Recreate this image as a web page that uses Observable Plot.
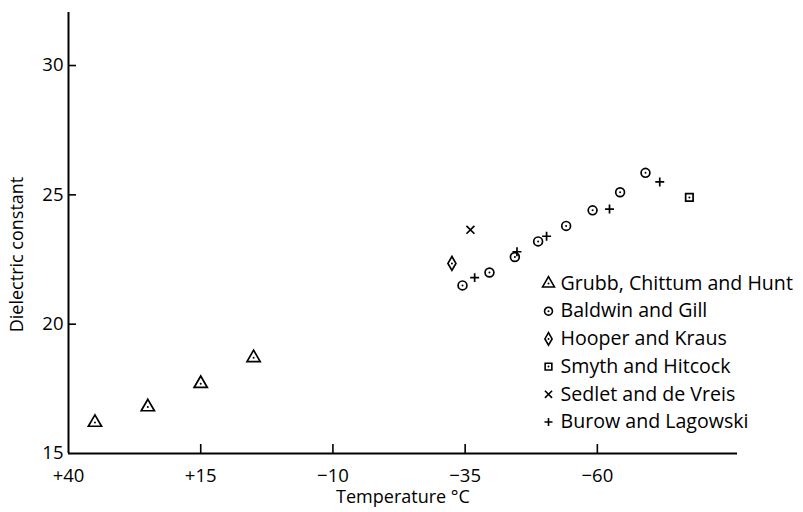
<!DOCTYPE html>
<html><head><meta charset="utf-8">
<script src="https://cdn.jsdelivr.net/npm/d3@7"></script>
<script src="https://cdn.jsdelivr.net/npm/@observablehq/plot@0.6"></script>
<style>body{margin:0;background:#fff}#chart{width:803px;height:512px}</style>
</head><body><div id="chart"></div>
<script>
// Axis ticks
const xTicks = [40, 15, -10, -35, -60];
const xTickLabels = ["+40", "+15", "\u221210", "\u221235", "\u221260"];
const yTicks = [15, 20, 25, 30];
const xDomain = [40, -86.5];
const yDomain = [15, 32.05];

// Series
const seriesNames = ["Grubb, Chittum and Hunt", "Baldwin and Gill", "Hooper and Kraus", "Smyth and Hitcock", "Sedlet and de Vreis", "Burow and Lagowski"];
const seriesSymbols = ["triangle", "circle", "diamond", "square", "times", "plus"];

const grubbT = [35, 25, 15, 5];
const grubbV = [16.2, 16.8, 17.7, 18.7];
const baldwinT = [-34.5, -39.6, -44.4, -48.8, -54.1, -59.1, -64.3, -69.1];
const baldwinV = [21.5, 22.0, 22.6, 23.2, 23.8, 24.4, 25.1, 25.85];
const hooperT = [-32.5];
const hooperV = [22.35];
const smythT = [-77.4];
const smythV = [24.9];
const sedletT = [-36];
const sedletV = [23.65];
const burowT = [-36.8, -44.8, -50.4, -62.3, -71.8];
const burowV = [21.8, 22.8, 23.4, 24.45, 25.5];

const seriesT = [grubbT, baldwinT, hooperT, smythT, sedletT, burowT];
const seriesV = [grubbV, baldwinV, hooperV, smythV, sedletV, burowV];

const points = [];
seriesT.forEach((ts, i) => ts.forEach((t, j) => points.push({t, v: seriesV[i][j], s: i})));

const filled = new Set([0, 1, 2, 3]);
const symR = [4.9, 4.4, 4.2, 4.2, 3.7, 3.0];
const FONT = "'Open Sans', Lato, sans-serif";

const marks = [
  Plot.ruleX([xDomain[0]], {y1: yDomain[0], y2: yDomain[1], strokeWidth: 2}),
  Plot.ruleY([yDomain[0]], {x1: xDomain[0], x2: xDomain[1], strokeWidth: 2}),
  Plot.axisY({ticks: yTicks, tickSize: 0, tickPadding: 5, label: null, fontSize: 18.5}),
  Plot.axisY({ticks: yTicks.slice(1), tickSize: 8, dx: 8, tickFormat: () => "", label: null, strokeWidth: 1.6}),
  Plot.axisX({ticks: xTicks, tickSize: 0, tickPadding: 15, tickFormat: (d) => xTickLabels[xTicks.indexOf(d)], label: null, fontSize: 18.5}),
  Plot.axisX({ticks: xTicks.slice(1), tickSize: 9, dy: -9, tickFormat: () => "", label: null, strokeWidth: 1.6}),
];

seriesNames.forEach((name, i) => {
  const data = points.filter(p => p.s === i);
  const isFilled = filled.has(i);
  marks.push(Plot.dot(data, {
    x: "t", y: "v", symbol: () => seriesSymbols[i], r: symR[i],
    fill: isFilled ? "white" : "none", stroke: "black", strokeWidth: 1.7
  }));
  if (isFilled) marks.push(Plot.dot(data, {x: "t", y: "v", r: 1, fill: "black", stroke: null}));
  // legend
  marks.push(Plot.dot([name], {
    frameAnchor: "top-left", dx: 480, dy: 271 + i * 27.7, symbol: () => seriesSymbols[i], r: symR[i] * 0.9,
    fill: isFilled ? "white" : "none", stroke: "black", strokeWidth: 1.6
  }));
  if (isFilled) marks.push(Plot.dot([name], {frameAnchor: "top-left", dx: 480, dy: 271 + i * 27.7, r: 1, fill: "black", stroke: null}));
  marks.push(Plot.text([name], {frameAnchor: "top-left", dx: 492, dy: 271 + i * 27.7, text: d => d, textAnchor: "start", lineAnchor: "middle", fontSize: 19.6}));
});

marks.push(Plot.text(["Temperature \u00B0C"], {frameAnchor: "bottom", dy: 44, text: d => d, textAnchor: "middle", lineAnchor: "middle", fontSize: 18}));
marks.push(Plot.text(["Dielectric constant"], {frameAnchor: "left", dx: -51, dy: 21.5, rotate: -90, text: d => d, textAnchor: "middle", lineAnchor: "middle", fontSize: 18}));

const chart = Plot.plot({
  width: 803, height: 512,
  marginLeft: 68, marginRight: 66, marginTop: 12, marginBottom: 59,
  x: {domain: xDomain},
  y: {domain: yDomain},
  style: {fontFamily: FONT, fontSize: "19px", background: "white", color: "black", overflow: "visible"},
  marks
});
document.getElementById("chart").appendChild(chart);
</script>
</body></html>
